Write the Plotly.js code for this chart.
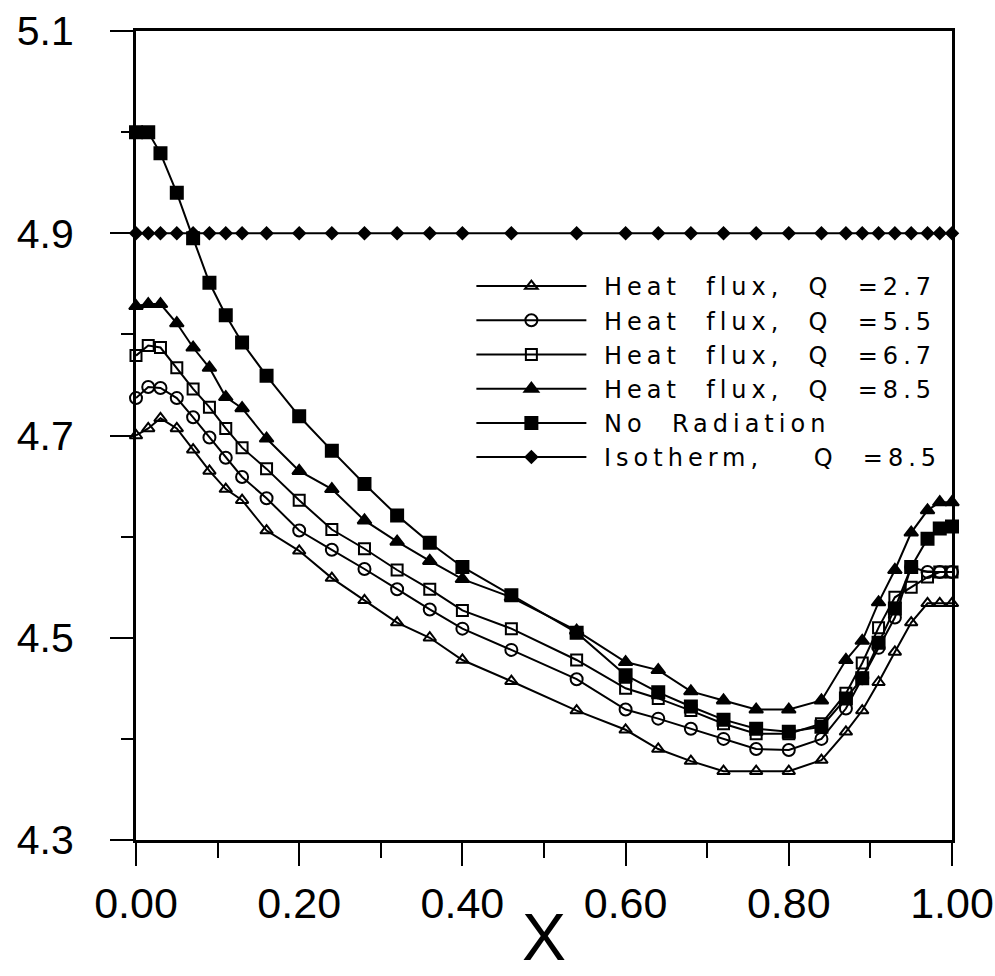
<!DOCTYPE html>
<html>
<head>
<meta charset="utf-8">
<script src="https://cdn.plot.ly/plotly-3.0.1.min.js"></script>
<style>
html,body{margin:0;padding:0;background:#fff;}
#chart{width:995px;height:976px;}
</style>
</head>
<body>
<div id="chart"></div>
<script>
var xPos = [0, 0.015, 0.03, 0.05, 0.07, 0.09, 0.11, 0.13, 0.16, 0.20, 0.24, 0.28, 0.32, 0.36, 0.40, 0.46,
            0.54, 0.60, 0.64, 0.68, 0.72, 0.76, 0.80, 0.84, 0.87, 0.89, 0.91, 0.93, 0.95, 0.97, 0.985, 1.0];

var heatQ27 = [4.700, 4.707, 4.717, 4.707, 4.686, 4.665, 4.647, 4.636, 4.606, 4.586, 4.559, 4.537, 4.515, 4.500, 4.478, 4.457,
               4.428, 4.409, 4.390, 4.378, 4.368, 4.368, 4.368, 4.379, 4.407, 4.428, 4.456, 4.486, 4.515, 4.534, 4.534, 4.534];

var heatQ55 = [4.737, 4.748, 4.747, 4.737, 4.718, 4.698, 4.678, 4.659, 4.638, 4.606, 4.587, 4.568, 4.548, 4.528, 4.509, 4.488,
               4.459, 4.429, 4.420, 4.410, 4.400, 4.390, 4.389, 4.400, 4.430, 4.460, 4.490, 4.520, 4.570, 4.565, 4.565, 4.565];

var heatQ67 = [4.779, 4.789, 4.787, 4.767, 4.746, 4.728, 4.707, 4.688, 4.667, 4.636, 4.607, 4.588, 4.567, 4.548, 4.527, 4.509,
               4.478, 4.450, 4.440, 4.428, 4.415, 4.405, 4.405, 4.415, 4.445, 4.475, 4.510, 4.540, 4.550, 4.560, 4.565, 4.565];

var heatQ85 = [4.828, 4.830, 4.830, 4.811, 4.787, 4.767, 4.738, 4.727, 4.697, 4.665, 4.647, 4.616, 4.595, 4.576, 4.558, 4.540,
               4.507, 4.476, 4.468, 4.447, 4.438, 4.429, 4.429, 4.438, 4.478, 4.497, 4.535, 4.567, 4.604, 4.626, 4.634, 4.634];

var noRadiation = [5.000, 5.000, 4.979, 4.940, 4.895, 4.851, 4.819, 4.792, 4.759, 4.719, 4.685, 4.652, 4.621, 4.594, 4.570, 4.542,
                   4.505, 4.463, 4.446, 4.432, 4.419, 4.410, 4.407, 4.412, 4.440, 4.460, 4.495, 4.529, 4.570, 4.598, 4.608, 4.610];

var isotherm = [4.9, 4.9, 4.9, 4.9, 4.9, 4.9, 4.9, 4.9, 4.9, 4.9, 4.9, 4.9, 4.9, 4.9, 4.9, 4.9,
                4.9, 4.9, 4.9, 4.9, 4.9, 4.9, 4.9, 4.9, 4.9, 4.9, 4.9, 4.9, 4.9, 4.9, 4.9, 4.9];

var seriesLabels = [
  'Heat\u00a0 flux,\u00a0 Q\u00a0 =2.7',
  'Heat\u00a0 flux,\u00a0 Q\u00a0 =5.5',
  'Heat\u00a0 flux,\u00a0 Q\u00a0 =6.7',
  'Heat\u00a0 flux,\u00a0 Q\u00a0 =8.5',
  'No\u00a0 Radiation',
  'Isotherm,\u00a0\u00a0\u00a0 Q\u00a0 =8.5'
];

var xTitle = 'X';
var yTickVals = [4.3, 4.5, 4.7, 4.9, 5.1];
var xTickVals = [0, 0.2, 0.4, 0.6, 0.8, 1.0];

function spaced(t) {
  return '<span style="letter-spacing:5px">\u00a0' + t + '</span>';
}

function mk(y, name, symbol, size) {
  return {
    x: xPos, y: y, name: spaced(name), type: 'scatter', mode: 'lines+markers',
    line: {color: '#000', width: 2},
    marker: {symbol: symbol, size: size, color: '#000', line: {color: '#000', width: 2}},
    cliponaxis: false
  };
}

var traces = [
  mk(heatQ27, seriesLabels[0], 'triangle-up-open', 11),
  mk(heatQ55, seriesLabels[1], 'circle-open', 12),
  mk(heatQ67, seriesLabels[2], 'square-open', 11),
  mk(heatQ85, seriesLabels[3], 'triangle-up', 12),
  mk(noRadiation, seriesLabels[4], 'square', 12),
  mk(isotherm, seriesLabels[5], 'diamond', 9)
];

var layout = {
  width: 995, height: 976,
  margin: {l: 136, r: 43, t: 31, b: 136},
  paper_bgcolor: '#fff', plot_bgcolor: '#fff',
  showlegend: true,
  legend: {
    x: 0.411, y: 0.712, xanchor: 'left', yanchor: 'top',
    bgcolor: 'rgba(0,0,0,0)', borderwidth: 0,
    font: {family: 'DejaVu Sans, sans-serif', size: 24, color: '#000'},
    itemwidth: 110, tracegroupgap: 0
  },
  xaxis: {
    range: [0, 1], tickvals: xTickVals, tickformat: '.2f',
    ticks: 'outside', ticklen: 23, tickwidth: 2, tickcolor: '#000',
    minor: {dtick: 0.1, ticks: 'outside', ticklen: 15, tickwidth: 2, tickcolor: '#000', showgrid: false},
    showline: true, linecolor: '#000', linewidth: 3, mirror: true,
    showgrid: false, zeroline: false,
    tickfont: {family: 'Liberation Sans, Arial, sans-serif', size: 43, color: '#000'}
  },
  yaxis: {
    range: [4.3, 5.1], tickvals: yTickVals, tickformat: '.1f',
    ticks: 'outside', ticklen: 23, tickwidth: 2, tickcolor: '#000',
    minor: {dtick: 0.1, ticks: 'outside', ticklen: 12, tickwidth: 2, tickcolor: '#000', showgrid: false},
    showline: true, linecolor: '#000', linewidth: 3, mirror: true,
    showgrid: false, zeroline: false,
    tickfont: {family: 'Liberation Sans, Arial, sans-serif', size: 41, color: '#000'},
    ticklabelstandoff: 28
  },
  annotations: [{
    text: xTitle, xref: 'paper', yref: 'paper', x: 0.5, y: -0.072,
    xanchor: 'center', yanchor: 'top', showarrow: false,
    font: {family: 'Liberation Sans, Arial, sans-serif', size: 66, color: '#000'}
  }]
};

Plotly.newPlot('chart', traces, layout, {displayModeBar: false, staticPlot: true});
</script>
</body>
</html>
